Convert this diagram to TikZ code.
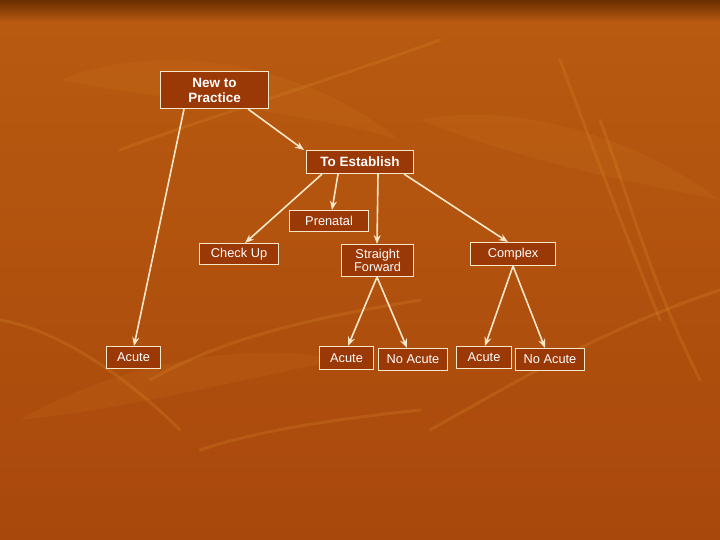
\documentclass[tikz,border=0pt]{standalone}
\usepackage{fontspec}
\setmainfont{Liberation Sans}
\usetikzlibrary{arrows.meta}
\definecolor{bgmain}{HTML}{B85A10}
\definecolor{bgdark}{HTML}{6A2E02}
\definecolor{bglow}{HTML}{A9480C}
\definecolor{boxfill}{HTML}{9A3806}
\definecolor{boxline}{HTML}{F6E7C9}
\definecolor{leaf}{HTML}{D98A2A}
\tikzset{
  box/.style={draw=boxline, line width=1.1pt, fill=boxfill, text=white, font=\fontsize{12.8}{13.5}\selectfont,
    inner sep=0pt, align=center, anchor=north west},
  conn/.style={draw=boxline, line width=1.6pt, -{Stealth[length=9pt,width=7pt]}}
}
\begin{document}
\begin{tikzpicture}[x=1pt,y=-1pt]
\useasboundingbox (0,0) rectangle (720,540);
% background
\shade[top color=bgmain, bottom color=bglow] (0,22) rectangle (720,540);
\shade[top color=bgdark, bottom color=bgmain] (0,0) rectangle (720,22);
% faint leaf strokes
\begin{scope}[opacity=0.25, line width=3pt, draw=leaf, line cap=round]
\draw (120,150) .. controls (200,120) and (330,80) .. (440,40);
\draw (150,380) .. controls (220,340) and (300,320) .. (420,300);
\draw (0,320) .. controls (60,330) and (130,380) .. (180,430);
\draw (560,60) .. controls (590,140) and (620,220) .. (660,320);
\draw (430,430) .. controls (520,380) and (600,330) .. (720,290);
\draw (200,450) .. controls (260,430) and (330,420) .. (420,410);
\draw (600,120) .. controls (630,200) and (650,280) .. (700,380);
\end{scope}
\begin{scope}[opacity=0.12, fill=leaf]
\fill (60,80) .. controls (160,40) and (300,60) .. (400,140) .. controls (300,110) and (160,100) .. (60,80);
\fill (420,120) .. controls (520,100) and (640,140) .. (720,200) .. controls (620,180) and (520,160) .. (420,120);
\fill (20,420) .. controls (120,360) and (260,340) .. (340,360) .. controls (240,380) and (120,410) .. (20,420);
\end{scope}
% nodes
\node[box, minimum width=108pt, minimum height=37pt, font=\bfseries\fontsize{13.5}{15}\selectfont] (ntp) at (160,71) {New to\\Practice};
\node[box, minimum width=107pt, minimum height=23pt, font=\bfseries\fontsize{13.5}{14}\selectfont] (est) at (306,150) {To Establish};
\node[box, minimum width=79pt, minimum height=21pt] (pre) at (289,210) {Prenatal};
\node[box, minimum width=79pt, minimum height=21pt] (chk) at (199,243) {Check Up};
\node[box, minimum width=72pt, minimum height=32pt, font=\fontsize{12.8}{12.8}\selectfont] (sf) at (341,244) {Straight\\Forward};
\node[box, minimum width=85pt, minimum height=23pt] (cx) at (470,242) {Complex};
\node[box, minimum width=54pt, minimum height=22pt] (a1) at (106,346) {Acute};
\node[box, minimum width=54pt, minimum height=23pt] (a2) at (319,346) {Acute};
\node[box, minimum width=69pt, minimum height=22pt] (n2) at (378,348) {No Acute};
\node[box, minimum width=55pt, minimum height=22pt] (a3) at (456,346) {Acute};
\node[box, minimum width=69pt, minimum height=22pt] (n3) at (515,348) {No Acute};
% connectors
\draw[conn] ([xshift=24pt]ntp.south west) -- ([xshift=28pt]a1.north west);
\draw[conn] ([xshift=-21pt]ntp.south east) -- ([xshift=-2pt]est.north west);
\draw[conn] ([xshift=16pt]est.south west) -- ([xshift=46pt]chk.north west);
\draw[conn] ([xshift=32pt]est.south west) -- ([xshift=43pt]pre.north west);
\draw[conn] ([xshift=72pt]est.south west) -- ([xshift=36pt]sf.north west);
\draw[conn] ([xshift=-10pt]est.south east) -- ([xshift=38pt]cx.north west);
\draw[conn] ([xshift=36pt]sf.south west) -- ([xshift=29pt]a2.north west);
\draw[conn] ([xshift=36pt]sf.south west) -- ([xshift=29pt]n2.north west);
\draw[conn] ([xshift=43pt]cx.south west) -- ([xshift=29pt]a3.north west);
\draw[conn] ([xshift=43pt]cx.south west) -- ([xshift=30pt]n3.north west);
\end{tikzpicture}
\end{document}
